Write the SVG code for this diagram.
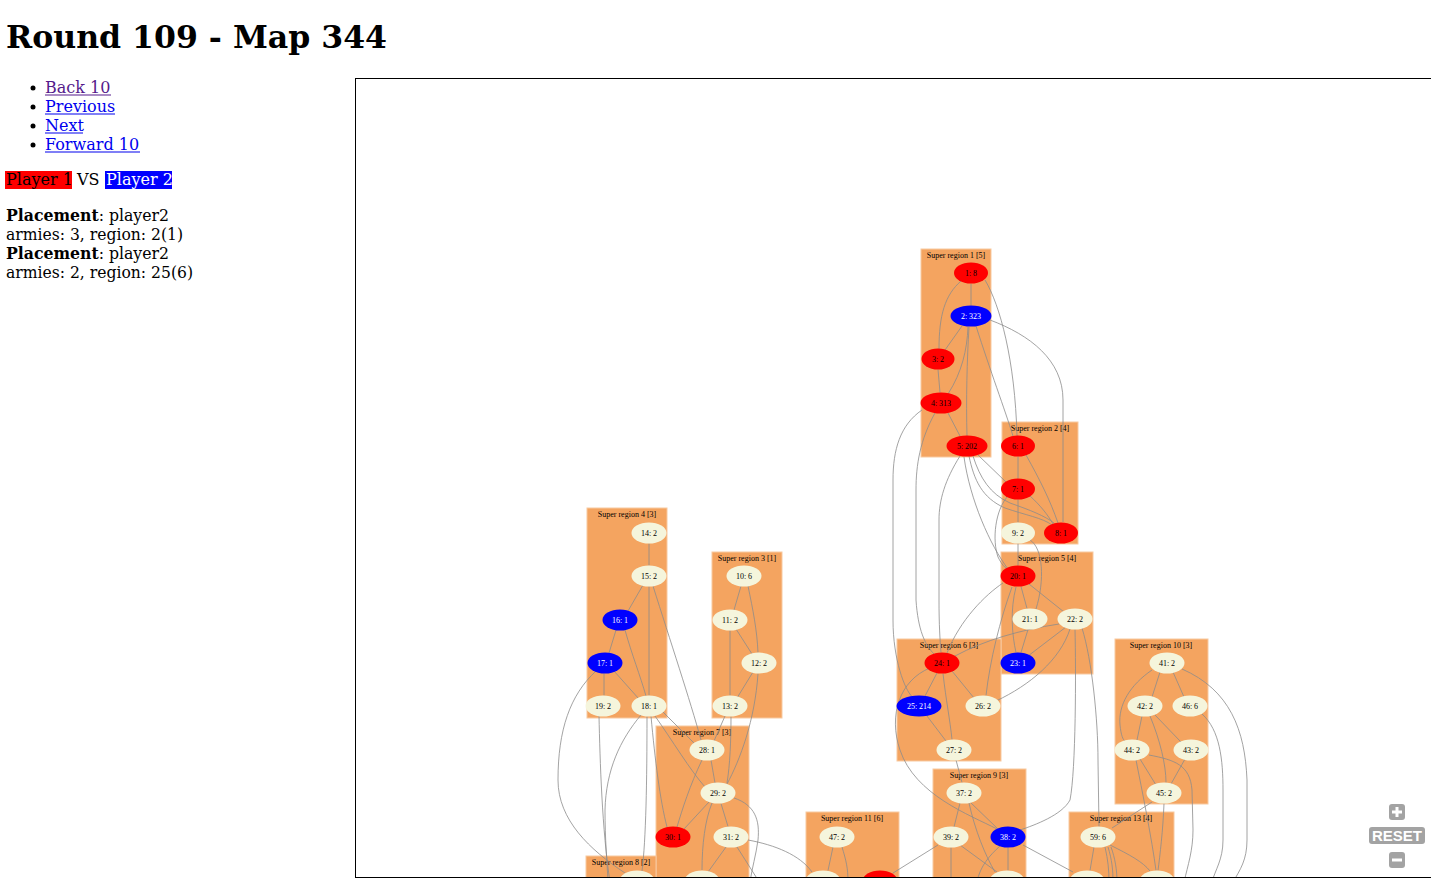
<svg xmlns="http://www.w3.org/2000/svg" width="1431" height="882" viewBox="0 0 1431 882">
<style>
.pg{font-family:"DejaVu Serif",serif;font-size:16px;fill:#000}
.lk{fill:#0000ee}
.vi{fill:#551a8b}
.cl{fill:#f4a460;stroke:#f8c9a0;stroke-width:1}
.cll{font-family:"Liberation Serif",serif;font-size:8px;text-anchor:middle;fill:#000}
.e{fill:none;stroke:#8c8c8c;stroke-width:0.8}
.nr{fill:#ff0000}
.nb{fill:#0000ff}
.nc{fill:#f5f5dc}
.nl{font-family:"Liberation Serif",serif;font-size:8px;text-anchor:middle;fill:#000}
.nw{fill:#ffffff}
.ctl{fill:#a3a3a3}
</style>
<defs>
<clipPath id="box"><rect x="356" y="79" width="1075" height="798"/></clipPath>
</defs>
<rect width="1431" height="882" fill="#fff"/>
<g id="page">
<text x="6" y="48" font-family="DejaVu Serif, serif" font-weight="bold" font-size="32" textLength="381" lengthAdjust="spacingAndGlyphs">Round 109 - Map 344</text>
<circle cx="33" cy="88" r="2.5"/>
<circle cx="33" cy="107" r="2.5"/>
<circle cx="33" cy="126" r="2.5"/>
<circle cx="33" cy="145" r="2.5"/>
<text class="pg vi" x="45" y="93">Back 10</text>
<rect x="45" y="94.5" width="66" height="1" fill="#551a8b"/>
<text class="pg lk" x="45" y="112">Previous</text>
<rect x="45" y="113.5" width="70" height="1" fill="#0000ee"/>
<text class="pg lk" x="45" y="131">Next</text>
<rect x="45" y="132.5" width="38" height="1" fill="#0000ee"/>
<text class="pg lk" x="45" y="150">Forward 10</text>
<rect x="45" y="151.5" width="95" height="1" fill="#0000ee"/>
<rect x="5" y="171" width="67" height="18" fill="#ff0000"/>
<text class="pg" x="6" y="185">Player 1</text>
<text class="pg" x="77" y="185">VS</text>
<rect x="105" y="171" width="67" height="18" fill="#0000ff"/>
<text class="pg" x="106" y="185" style="fill:#fff">Player 2</text>
<text class="pg" x="6" y="221" textLength="163" lengthAdjust="spacingAndGlyphs"><tspan font-weight="bold">Placement</tspan>: player2</text>
<text class="pg" x="6" y="240" textLength="177" lengthAdjust="spacingAndGlyphs">armies: 3, region: 2(1)</text>
<text class="pg" x="6" y="259" textLength="163" lengthAdjust="spacingAndGlyphs"><tspan font-weight="bold">Placement</tspan>: player2</text>
<text class="pg" x="6" y="278" textLength="187" lengthAdjust="spacingAndGlyphs">armies: 2, region: 25(6)</text>
</g>
<g clip-path="url(#box)">
<g id="clusters">
<g id="sr1"><rect class="cl" x="921" y="249" width="70" height="208"/><text class="cll" x="956" y="258">Super region 1 [5]</text></g>
<g id="sr2"><rect class="cl" x="1002" y="422" width="76" height="122"/><text class="cll" x="1040" y="431">Super region 2 [4]</text></g>
<g id="sr5"><rect class="cl" x="1001" y="552" width="92" height="122"/><text class="cll" x="1047" y="561">Super region 5 [4]</text></g>
<g id="sr6"><rect class="cl" x="897" y="639" width="104" height="122"/><text class="cll" x="949" y="648">Super region 6 [3]</text></g>
<g id="sr4"><rect class="cl" x="587" y="508" width="80" height="210"/><text class="cll" x="627" y="517">Super region 4 [3]</text></g>
<g id="sr3"><rect class="cl" x="712" y="552" width="70" height="166"/><text class="cll" x="747" y="561">Super region 3 [1]</text></g>
<g id="sr7"><rect class="cl" x="656" y="726" width="93" height="180"/><text class="cll" x="702" y="735">Super region 7 [3]</text></g>
<g id="sr8"><rect class="cl" x="586" y="856" width="70" height="50"/><text class="cll" x="621" y="865">Super region 8 [2]</text></g>
<g id="sr11"><rect class="cl" x="806" y="812" width="93" height="90"/><text class="cll" x="852" y="821">Super region 11 [6]</text></g>
<g id="sr9"><rect class="cl" x="933" y="769" width="93" height="130"/><text class="cll" x="979" y="778">Super region 9 [3]</text></g>
<g id="sr13"><rect class="cl" x="1069" y="812" width="105" height="90"/><text class="cll" x="1121" y="821">Super region 13 [4]</text></g>
<g id="sr10"><rect class="cl" x="1115" y="639" width="93" height="165"/><text class="cll" x="1161" y="648">Super region 10 [3]</text></g>
</g>
<g id="connectors">
<path class="e" d="M971,283.5 L971,305.5"/>
<path class="e" d="M961,281 C945,295 939,315 939,349"/>
<path class="e" d="M985,280 C1000,305 1015,360 1017,436"/>
<path class="e" d="M962,326 L945,350"/>
<path class="e" d="M968,327 C967,350 962,372 948,394"/>
<path class="e" d="M969,327 C967,360 966,400 967,436"/>
<path class="e" d="M976,326 C990,370 1005,410 1013,436"/>
<path class="e" d="M990,320 C1030,335 1063,360 1063,400 L1063,522"/>
<path class="e" d="M938,369.5 L940,392.5"/>
<path class="e" d="M948,413 L960,436"/>
<path class="e" d="M1018,456.5 L1018,478.5"/>
<path class="e" d="M1026,455 C1040,480 1050,500 1058,523"/>
<path class="e" d="M1018,499.5 L1018,522.5"/>
<path class="e" d="M1030,496 C1040,505 1048,515 1053,524"/>
<path class="e" d="M978,455 L1006,482"/>
<path class="e" d="M969,456 C974,480 982,498 1005,508 C1025,515 1043,518 1052,525"/>
<path class="e" d="M973,456 C980,478 990,494 1010,503 C1030,510 1045,516 1054,523"/>
<path class="e" d="M1008,496 C995,510 992,540 998,557 C1002,565 1005,568 1008,569"/>
<path class="e" d="M964,457 C970,500 990,545 1008,569"/>
<path class="e" d="M1018,543.5 L1018,565.5"/>
<path class="e" d="M1030,540 C1043,548 1045,580 1036,609"/>
<path class="e" d="M1021,586.5 L1027,608.5"/>
<path class="e" d="M1029,584 L1064,612"/>
<path class="e" d="M1016,587 C1010,610 1012,635 1016,652.5"/>
<path class="e" d="M1003,583 C985,595 960,620 947,653"/>
<path class="e" d="M1012,587 C1000,620 990,660 986,695.5"/>
<path class="e" d="M1028,629.5 L1021,652.5"/>
<path class="e" d="M1066,627 L1028,656"/>
<path class="e" d="M1059,624 C1020,630 985,640 955,656"/>
<path class="e" d="M1070,629 C1060,660 1030,685 996,701"/>
<path class="e" d="M1075,629.5 C1076,670 1076,770 1070,800 C1062,815 1035,825 1020,830"/>
<path class="e" d="M1082,628 C1092,660 1098,720 1098,760 L1099,826.5"/>
<path class="e" d="M937,673 L925,696"/>
<path class="e" d="M952,671 L974,698"/>
<path class="e" d="M943,673.5 C946,700 950,720 952,739.5"/>
<path class="e" d="M927,716 L946,741"/>
<path class="e" d="M922,410 C900,425 893,450 893,480 L893,620 C893,660 905,690 912,696.5"/>
<path class="e" d="M935,413 C920,440 916,465 916,490 L916,600 C918,630 925,645 934,654"/>
<path class="e" d="M960,456 C945,480 939,500 939,520 L939,600 C939,625 940,640 941,652.5"/>
<path class="e" d="M930,668 C900,680 888,715 900,750 C915,795 970,815 997,829"/>
<path class="e" d="M956,760 L962,782.5"/>
<path class="e" d="M649,543.5 L649,565.5"/>
<path class="e" d="M643,585 L628,611"/>
<path class="e" d="M649,586.5 L649,695.5"/>
<path class="e" d="M653,586 C670,640 690,700 701,740"/>
<path class="e" d="M616,630 L609,653"/>
<path class="e" d="M625,630 C632,655 640,675 646,696"/>
<path class="e" d="M604,673.5 L604,695.5"/>
<path class="e" d="M614,671 L639,699"/>
<path class="e" d="M596,671 C570,695 558,730 558,780 C558,820 590,850 625,873"/>
<path class="e" d="M599,716 C600,760 602,830 610,882"/>
<path class="e" d="M647,716.5 C647,780 646,840 642,871"/>
<path class="e" d="M641,715 C620,740 606,770 605,810 C605,840 607,860 608,882"/>
<path class="e" d="M663,712 L694,743"/>
<path class="e" d="M655,716 C672,740 690,770 705,787"/>
<path class="e" d="M651,716 C655,760 660,800 667,827"/>
<path class="e" d="M741,586 L734,610"/>
<path class="e" d="M748,586 C753,610 757,630 758,652.5"/>
<path class="e" d="M736,629 L752,654"/>
<path class="e" d="M730,630.5 L730,695.5"/>
<path class="e" d="M753,672 L737,698"/>
<path class="e" d="M758,673.5 C755,720 740,760 727,784"/>
<path class="e" d="M725,716 L714,741"/>
<path class="e" d="M731,716.5 C731,740 730,765 727,783"/>
<path class="e" d="M711,760 L715,783"/>
<path class="e" d="M702,760 C690,785 682,810 677,827"/>
<path class="e" d="M709,802 L684,829"/>
<path class="e" d="M721,803.5 L728,826.5"/>
<path class="e" d="M734,798 C755,805 760,820 758,840 C756,855 752,868 750,882"/>
<path class="e" d="M712,803 C705,820 702,845 702,870"/>
<path class="e" d="M726,847 L708,872"/>
<path class="e" d="M737,847 L758,880"/>
<path class="e" d="M748,840 C775,845 800,855 812,872"/>
<path class="e" d="M833,847 L828,870.5"/>
<path class="e" d="M842,847 C846,860 848,868 848,882"/>
<path class="e" d="M938,845 L893,873"/>
<path class="e" d="M960,803 L954,827"/>
<path class="e" d="M970,802 L998,829"/>
<path class="e" d="M969,803 C975,830 985,855 995,872"/>
<path class="e" d="M960,845 L997,872"/>
<path class="e" d="M951,847.5 L951,882"/>
<path class="e" d="M1008,847.5 L1008,870.5"/>
<path class="e" d="M1000,846 C990,855 980,866 977,882"/>
<path class="e" d="M1023,845 L1073,872"/>
<path class="e" d="M1094,847 L1090,870.5"/>
<path class="e" d="M1110,845 C1130,855 1143,862 1150,871"/>
<path class="e" d="M1105,847 C1108,860 1109,870 1109,882"/>
<path class="e" d="M1108,847 C1112,860 1113,870 1113,882"/>
<path class="e" d="M1111,847 C1115,858 1117,870 1117,882"/>
<path class="e" d="M1160,672 L1152,697"/>
<path class="e" d="M1173,672 L1184,697"/>
<path class="e" d="M1152,670 C1130,685 1118,705 1120,725 C1121,735 1123,740 1125,741"/>
<path class="e" d="M1182,669 C1230,690 1245,730 1247,780 L1247,840 C1247,860 1240,870 1233,882"/>
<path class="e" d="M1142,716 L1137,740"/>
<path class="e" d="M1155,715 L1181,742"/>
<path class="e" d="M1150,716 C1160,740 1166,765 1166,782.5"/>
<path class="e" d="M1140,759 L1156,785"/>
<path class="e" d="M1185,759 L1171,784"/>
<path class="e" d="M1149,755 C1175,760 1190,765 1192,790 L1193,830 C1193,850 1188,865 1184,882"/>
<path class="e" d="M1136,760 C1142,790 1152,840 1156,870.5"/>
<path class="e" d="M1202,714 C1220,730 1223,760 1223,790 L1223,840 C1223,860 1215,870 1212,882"/>
<path class="e" d="M1152,802 L1112,828"/>
<path class="e" d="M1164,803.5 C1163,830 1160,855 1158,870.5"/>
</g>
<g id="nodes">
<g id="n1"><ellipse class="nr" cx="971" cy="273" rx="17" ry="10.5"/><text class="nl" x="971" y="276">1: 8</text></g>
<g id="n2"><ellipse class="nb" cx="971" cy="316" rx="20.5" ry="10.5"/><text class="nl nw" x="971" y="319">2: 323</text></g>
<g id="n3"><ellipse class="nr" cx="938" cy="359" rx="16.5" ry="10.5"/><text class="nl" x="938" y="362">3: 2</text></g>
<g id="n4"><ellipse class="nr" cx="941" cy="403" rx="20.5" ry="10.5"/><text class="nl" x="941" y="406">4: 313</text></g>
<g id="n5"><ellipse class="nr" cx="967" cy="446" rx="20.5" ry="10.5"/><text class="nl" x="967" y="449">5: 202</text></g>
<g id="n6"><ellipse class="nr" cx="1018" cy="446" rx="17" ry="10.5"/><text class="nl" x="1018" y="449">6: 1</text></g>
<g id="n7"><ellipse class="nr" cx="1018" cy="489" rx="17" ry="10.5"/><text class="nl" x="1018" y="492">7: 1</text></g>
<g id="n9"><ellipse class="nc" cx="1018" cy="533" rx="17" ry="10.5"/><text class="nl" x="1018" y="536">9: 2</text></g>
<g id="n8"><ellipse class="nr" cx="1061" cy="533" rx="17" ry="10.5"/><text class="nl" x="1061" y="536">8: 1</text></g>
<g id="n20"><ellipse class="nr" cx="1018" cy="576" rx="17.5" ry="10.5"/><text class="nl" x="1018" y="579">20: 1</text></g>
<g id="n21"><ellipse class="nc" cx="1030" cy="619" rx="17.5" ry="10.5"/><text class="nl" x="1030" y="622">21: 1</text></g>
<g id="n22"><ellipse class="nc" cx="1075" cy="619" rx="17.5" ry="10.5"/><text class="nl" x="1075" y="622">22: 2</text></g>
<g id="n23"><ellipse class="nb" cx="1018" cy="663" rx="17.5" ry="10.5"/><text class="nl nw" x="1018" y="666">23: 1</text></g>
<g id="n24"><ellipse class="nr" cx="942" cy="663" rx="17.5" ry="10.5"/><text class="nl" x="942" y="666">24: 1</text></g>
<g id="n25"><ellipse class="nb" cx="919" cy="706" rx="22.5" ry="10.5"/><text class="nl nw" x="919" y="709">25: 214</text></g>
<g id="n26"><ellipse class="nc" cx="983" cy="706" rx="17.5" ry="10.5"/><text class="nl" x="983" y="709">26: 2</text></g>
<g id="n27"><ellipse class="nc" cx="954" cy="750" rx="17.5" ry="10.5"/><text class="nl" x="954" y="753">27: 2</text></g>
<g id="n14"><ellipse class="nc" cx="649" cy="533" rx="17.5" ry="10.5"/><text class="nl" x="649" y="536">14: 2</text></g>
<g id="n15"><ellipse class="nc" cx="649" cy="576" rx="17.5" ry="10.5"/><text class="nl" x="649" y="579">15: 2</text></g>
<g id="n16"><ellipse class="nb" cx="620" cy="620" rx="17.5" ry="10.5"/><text class="nl nw" x="620" y="623">16: 1</text></g>
<g id="n17"><ellipse class="nb" cx="605" cy="663" rx="17.5" ry="10.5"/><text class="nl nw" x="605" y="666">17: 1</text></g>
<g id="n19"><ellipse class="nc" cx="603" cy="706" rx="17.5" ry="10.5"/><text class="nl" x="603" y="709">19: 2</text></g>
<g id="n18"><ellipse class="nc" cx="649" cy="706" rx="17.5" ry="10.5"/><text class="nl" x="649" y="709">18: 1</text></g>
<g id="n10"><ellipse class="nc" cx="744" cy="576" rx="17.5" ry="10.5"/><text class="nl" x="744" y="579">10: 6</text></g>
<g id="n11"><ellipse class="nc" cx="730" cy="620" rx="17.5" ry="10.5"/><text class="nl" x="730" y="623">11: 2</text></g>
<g id="n12"><ellipse class="nc" cx="759" cy="663" rx="17.5" ry="10.5"/><text class="nl" x="759" y="666">12: 2</text></g>
<g id="n13"><ellipse class="nc" cx="730" cy="706" rx="17.5" ry="10.5"/><text class="nl" x="730" y="709">13: 2</text></g>
<g id="n28"><ellipse class="nc" cx="707" cy="750" rx="17.5" ry="10.5"/><text class="nl" x="707" y="753">28: 1</text></g>
<g id="n29"><ellipse class="nc" cx="718" cy="793" rx="17.5" ry="10.5"/><text class="nl" x="718" y="796">29: 2</text></g>
<g id="n30"><ellipse class="nr" cx="673" cy="837" rx="17.5" ry="10.5"/><text class="nl" x="673" y="840">30: 1</text></g>
<g id="n31"><ellipse class="nc" cx="731" cy="837" rx="17.5" ry="10.5"/><text class="nl" x="731" y="840">31: 2</text></g>
<g id="n47"><ellipse class="nc" cx="837" cy="837" rx="17.5" ry="10.5"/><text class="nl" x="837" y="840">47: 2</text></g>
<g id="n37"><ellipse class="nc" cx="964" cy="793" rx="17.5" ry="10.5"/><text class="nl" x="964" y="796">37: 2</text></g>
<g id="n39"><ellipse class="nc" cx="951" cy="837" rx="17.5" ry="10.5"/><text class="nl" x="951" y="840">39: 2</text></g>
<g id="n38"><ellipse class="nb" cx="1008" cy="837" rx="17.5" ry="10.5"/><text class="nl nw" x="1008" y="840">38: 2</text></g>
<g id="n59"><ellipse class="nc" cx="1098" cy="837" rx="17.5" ry="10.5"/><text class="nl" x="1098" y="840">59: 6</text></g>
<g id="n41"><ellipse class="nc" cx="1167" cy="663" rx="17.5" ry="10.5"/><text class="nl" x="1167" y="666">41: 2</text></g>
<g id="n42"><ellipse class="nc" cx="1145" cy="706" rx="17.5" ry="10.5"/><text class="nl" x="1145" y="709">42: 2</text></g>
<g id="n46"><ellipse class="nc" cx="1190" cy="706" rx="17.5" ry="10.5"/><text class="nl" x="1190" y="709">46: 6</text></g>
<g id="n44"><ellipse class="nc" cx="1132" cy="750" rx="17.5" ry="10.5"/><text class="nl" x="1132" y="753">44: 2</text></g>
<g id="n43"><ellipse class="nc" cx="1191" cy="750" rx="17.5" ry="10.5"/><text class="nl" x="1191" y="753">43: 2</text></g>
<g id="n45"><ellipse class="nc" cx="1164" cy="793" rx="17.5" ry="10.5"/><text class="nl" x="1164" y="796">45: 2</text></g>
<g id="nb8"><ellipse class="nc" cx="637" cy="881" rx="17.5" ry="10.5"/></g>
<g id="nb7"><ellipse class="nc" cx="702" cy="881" rx="17.5" ry="10.5"/></g>
<g id="nb11a"><ellipse class="nc" cx="823" cy="881" rx="17.5" ry="10.5"/></g>
<g id="nb11b"><ellipse class="nr" cx="880" cy="881" rx="17.5" ry="10.5"/></g>
<g id="nb9"><ellipse class="nc" cx="1007" cy="881" rx="17.5" ry="10.5"/></g>
<g id="nb13a"><ellipse class="nc" cx="1087" cy="881" rx="17.5" ry="10.5"/></g>
<g id="nb13b"><ellipse class="nc" cx="1157" cy="881" rx="17.5" ry="10.5"/></g>
</g>
</g>
<rect x="355.5" y="78.5" width="1100" height="799" fill="none" stroke="#000" stroke-width="1"/>
<g id="controls">
<rect class="ctl" x="1389" y="804" width="16" height="16" rx="3"/>
<rect x="1395.5" y="807" width="3" height="10" fill="#fff"/>
<rect x="1392" y="810.5" width="10" height="3" fill="#fff"/>
<rect class="ctl" x="1369" y="827" width="56" height="17" rx="3"/>
<text x="1397" y="841" font-family="Liberation Sans, Arial, sans-serif" font-weight="bold" font-size="15" fill="#fff" text-anchor="middle">RESET</text>
<rect class="ctl" x="1389" y="852" width="16" height="16" rx="3"/>
<rect x="1392" y="858.5" width="10" height="3" fill="#fff"/>
</g>
</svg>
